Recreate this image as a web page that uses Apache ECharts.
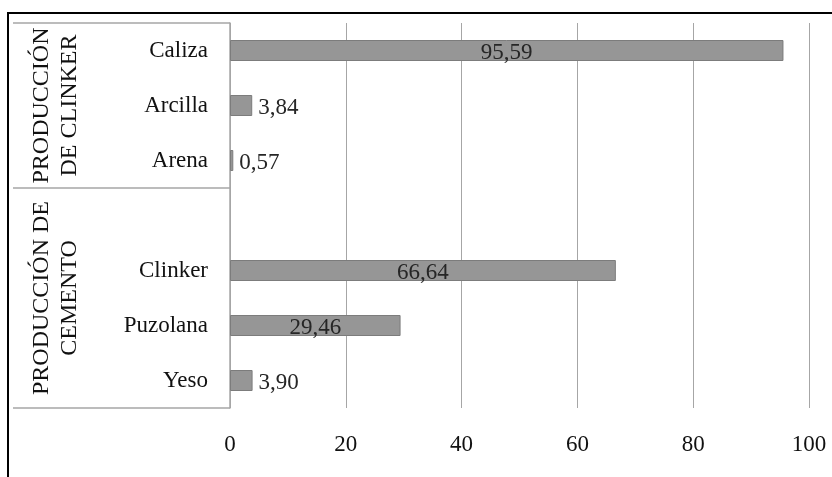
<!DOCTYPE html>
<html>
<head>
<meta charset="utf-8">
<script src="https://cdn.jsdelivr.net/npm/echarts@6/dist/echarts.min.js"></script>
<style>
  html, body { margin: 0; padding: 0; background: #fff; }
  #chart { width: 832px; height: 477px; }
</style>
</head>
<body>
<div id="chart"></div>
<script>
// ---- data ----
var categories = ['Caliza', 'Arcilla', 'Arena', '', 'Clinker', 'Puzolana', 'Yeso'];
var values = [95.59, 3.84, 0.57, null, 66.64, 29.46, 3.90];
var xTicks = [0, 20, 40, 60, 80, 100];
var groupLines = [['PRODUCCIÓN', 'DE CLINKER'], ['PRODUCCIÓN DE', 'CEMENTO']];
var groupStart = [0, 3];
var groupEnd = [2, 6];

// ---- style ----
var FONT = "'Liberation Serif', 'Times New Roman', serif";
var LINE = '#a6a6a6';

var chart = echarts.init(document.getElementById('chart'), null, { renderer: 'canvas' });

function fmt(v) { return v.toFixed(2).replace('.', ','); }

var barData = values.map(function (v) {
  if (v === null) return null;
  var inside = v > 10;
  return {
    value: v,
    label: {
      position: inside ? 'inside' : 'right',
      distance: 6,
      offset: [0, 2]
    }
  };
});

var option = {
  animation: false,
  backgroundColor: '#fff',
  grid: { left: 230, right: 23, top: 23, bottom: 69, containLabel: false },
  xAxis: {
    type: 'value',
    min: xTicks[0],
    max: xTicks[xTicks.length - 1],
    interval: xTicks[1] - xTicks[0],
    axisLine: { show: false },
    axisTick: { show: false },
    splitLine: { show: true, lineStyle: { color: LINE, width: 1 } },
    axisLabel: {
      margin: 25,
      color: '#111',
      fontFamily: FONT,
      fontSize: 23,
      formatter: function (v) { return String(v); }
    }
  },
  yAxis: {
    type: 'category',
    data: categories,
    inverse: true,
    axisLine: { show: true, lineStyle: { color: LINE, width: 1.5 } },
    axisTick: { show: false },
    splitLine: { show: false },
    axisLabel: {
      margin: 22,
      color: '#111',
      fontFamily: FONT,
      fontSize: 23
    }
  },
  series: [{
    type: 'bar',
    data: barData,
    barWidth: 21,
    itemStyle: { color: '#969696', borderColor: '#7c7c7c', borderWidth: 1 },
    label: {
      show: true,
      color: '#262626',
      fontFamily: FONT,
      fontSize: 23,
      formatter: function (p) { return fmt(p.value); }
    }
  }]
};

chart.setOption(option);

// ---- multi-level group box, computed from the category axis ----
function yPix(i) { return chart.convertToPixel({ yAxisIndex: 0 }, categories[i] === '' ? i : categories[i]); }
var centers = categories.map(function (c, i) { return chart.convertToPixel({ yAxisIndex: 0 }, i); });
var half = (centers[1] - centers[0]) / 2;
var axisX = chart.convertToPixel({ xAxisIndex: 0 }, 0);
var boxLeft = 13;

var graphics = [];
// outer black frame
graphics.push({
  type: 'rect', silent: true, z: 10,
  shape: { x: 8, y: 13, width: 900, height: 600 },
  style: { fill: 'none', stroke: '#000', lineWidth: 2 }
});

var boundaries = [centers[0] - half];
for (var g = 0; g < groupEnd.length; g++) {
  boundaries.push(centers[groupEnd[g]] + half);
}
boundaries.forEach(function (y) {
  graphics.push({
    type: 'line', silent: true, z: 5,
    shape: { x1: boxLeft, y1: y, x2: axisX, y2: y },
    style: { stroke: LINE, lineWidth: 1.5 }
  });
});

groupLines.forEach(function (lines, g) {
  var top = centers[groupStart[g]] - half;
  var bottom = centers[groupEnd[g]] + half;
  var cy = (top + bottom) / 2;
  graphics.push({
    type: 'text', silent: true, z: 6,
    x: 56, y: cy,
    rotation: Math.PI / 2,
    style: {
      text: lines.join('\n'),
      fontFamily: FONT,
      fontSize: 24,
      lineHeight: 28,
      fill: '#111',
      align: 'center',
      verticalAlign: 'middle'
    }
  });
});

chart.setOption({ graphic: graphics });
</script>
</body>
</html>
